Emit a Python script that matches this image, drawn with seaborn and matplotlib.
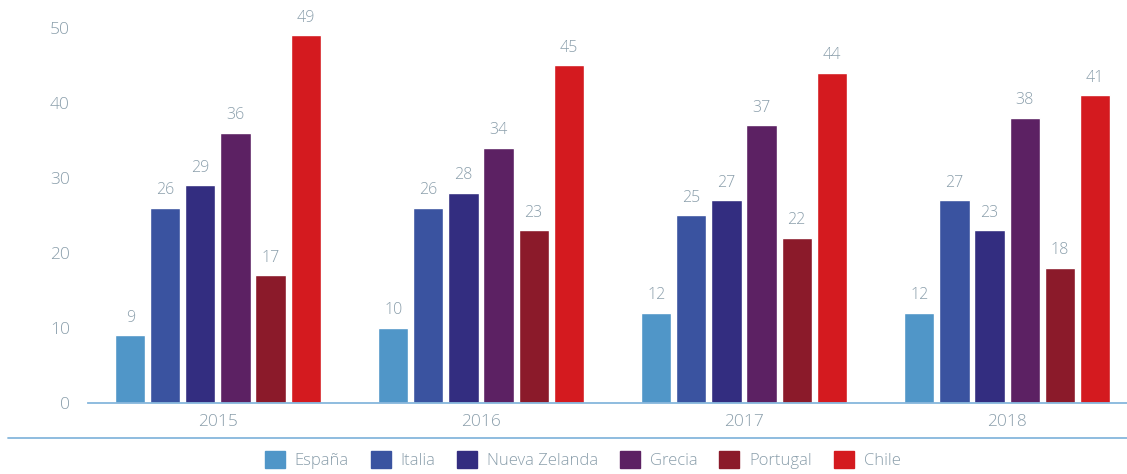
import pandas as pd
import matplotlib.pyplot as plt
import seaborn as sns

### datos
years = ['2015', '2016', '2017', '2018']
countries = ['España', 'Italia', 'Nueva Zelanda', 'Grecia', 'Portugal', 'Chile']
espana = [9, 10, 12, 12]
italia = [26, 26, 25, 27]
nueva_zelanda = [29, 28, 27, 23]
grecia = [36, 34, 37, 38]
portugal = [17, 23, 22, 18]
chile = [49, 45, 44, 41]
colors = ['#5096C8', '#3A53A0', '#332D80', '#5C2163', '#8B1A2A', '#D41A1F']

series = [espana, italia, nueva_zelanda, grecia, portugal, chile]
rows = []
for c, vals in zip(countries, series):
    for y, v in zip(years, vals):
        rows.append({'year': y, 'country': c, 'value': v})
df = pd.DataFrame(rows)

sns.set_style('white')
plt.rcParams['font.family'] = ['Open Sans', 'DejaVu Sans']
plt.rcParams['font.weight'] = 'light'
txt = '#8A9EAB'
blue_line = '#86B6DC'

fig = plt.figure(figsize=(11.27, 4.74), dpi=100)
ax = fig.add_axes([88/1127, 71/474, 1 - 88/1127, 403/474])

sns.barplot(data=df, x='year', y='value', hue='country', hue_order=countries,
            palette=colors, width=0.8, gap=0.14, saturation=1, ax=ax, legend=False)

for cont in ax.containers:
    ax.bar_label(cont, padding=7, color=txt, fontsize=11.5)

ax.set_ylim(0, 53.7)
ax.set_xlim(-0.494, 3.456)
ax.set_yticks([0, 10, 20, 30, 40, 50])
ax.set_xlabel('')
ax.set_ylabel('')
for s in ['top', 'right', 'left']:
    ax.spines[s].set_visible(False)
ax.spines['bottom'].set_color(blue_line)
ax.spines['bottom'].set_linewidth(1.3)
ax.tick_params(axis='both', length=0, colors=txt, labelsize=12.5)
ax.tick_params(axis='y', pad=13)
ax.tick_params(axis='x', pad=8)

### linea separadora
fig.add_artist(plt.Line2D([8/1127, 1], [36/474, 36/474], color=blue_line, lw=1.3))

### leyenda
handles = [plt.Rectangle((0, 0), 1, 1, color=c) for c in colors]
leg = fig.legend(handles, countries, loc='center', bbox_to_anchor=(0.517, 14/474), ncol=6,
                 frameon=False, fontsize=12, handlelength=1.2, handleheight=1.2,
                 handletextpad=0.6, columnspacing=1.3)
for t in leg.get_texts():
    t.set_color(txt)

fig.savefig('out.png', dpi=100)
